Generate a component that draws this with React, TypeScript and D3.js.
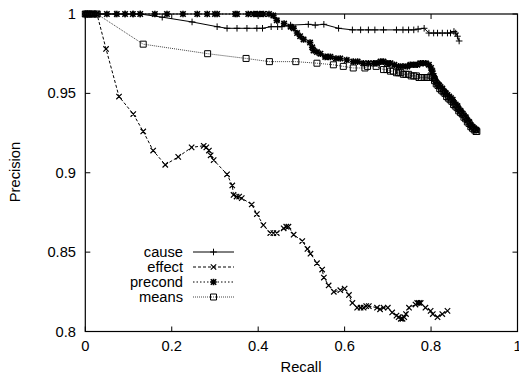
import React from "react";
import * as d3 from "d3";

// recall / precision pairs
const causePts: [number, number][] = [
  [0, 1], [0.01, 1], [0.02, 1], [0.034, 1], [0.069, 1], [0.092, 1], [0.111, 1], [0.127, 1],
  [0.178, 0.998], [0.247, 0.995], [0.305, 0.992], [0.328, 0.991], [0.351, 0.991], [0.374, 0.991],
  [0.397, 0.991], [0.41, 0.991], [0.43, 0.992], [0.445, 0.992], [0.455, 0.992], [0.475, 0.993],
  [0.516, 0.9935], [0.532, 0.993], [0.552, 0.9935], [0.586, 0.991], [0.618, 0.99], [0.637, 0.99],
  [0.655, 0.99], [0.67, 0.99], [0.69, 0.99], [0.72, 0.99], [0.735, 0.99], [0.748, 0.99],
  [0.76, 0.99], [0.77, 0.9905], [0.784, 0.991], [0.795, 0.988], [0.806, 0.988], [0.815, 0.988],
  [0.826, 0.988], [0.838, 0.988], [0.845, 0.988], [0.853, 0.989], [0.857, 0.988], [0.861, 0.986],
  [0.865, 0.983],
];

const effectPts: [number, number][] = [
  [0, 1], [0.01, 1], [0.02, 1], [0.027, 1], [0.048, 0.978], [0.078, 0.948], [0.111, 0.937],
  [0.134, 0.926], [0.157, 0.914], [0.185, 0.905], [0.215, 0.91], [0.246, 0.916], [0.274, 0.917],
  [0.28, 0.916], [0.286, 0.914], [0.29, 0.911], [0.297, 0.908], [0.328, 0.899], [0.34, 0.892],
  [0.343, 0.886], [0.35, 0.885], [0.356, 0.885], [0.362, 0.884], [0.385, 0.88], [0.397, 0.874],
  [0.412, 0.867], [0.428, 0.862], [0.435, 0.862], [0.443, 0.862], [0.459, 0.865], [0.465, 0.866],
  [0.47, 0.866], [0.482, 0.861], [0.502, 0.857], [0.514, 0.852], [0.521, 0.849], [0.536, 0.843],
  [0.548, 0.839], [0.552, 0.834], [0.563, 0.829], [0.575, 0.825], [0.59, 0.826], [0.6, 0.827],
  [0.61, 0.823], [0.618, 0.818], [0.629, 0.815], [0.637, 0.815], [0.644, 0.815], [0.65, 0.816],
  [0.656, 0.816], [0.675, 0.815], [0.682, 0.814], [0.69, 0.815], [0.7, 0.815], [0.71, 0.812],
  [0.72, 0.81], [0.725, 0.809], [0.73, 0.808], [0.734, 0.808], [0.738, 0.809], [0.742, 0.811],
  [0.749, 0.815], [0.764, 0.817], [0.768, 0.818], [0.772, 0.818], [0.776, 0.818], [0.787, 0.815],
  [0.799, 0.813], [0.804, 0.811], [0.815, 0.809], [0.826, 0.811], [0.838, 0.813],
];

const precondPts: [number, number][] = [
  [0, 1], [0.005, 1], [0.01, 1], [0.015, 1], [0.02, 1], [0.025, 1], [0.05, 1], [0.073, 1],
  [0.092, 1], [0.11, 1], [0.127, 1], [0.161, 1], [0.189, 1], [0.226, 1], [0.259, 1], [0.282, 1],
  [0.3, 1], [0.305, 1], [0.347, 1], [0.351, 1], [0.377, 1], [0.39, 1], [0.398, 1], [0.404, 1],
  [0.412, 1], [0.425, 1], [0.435, 0.999], [0.443, 0.996], [0.46, 0.994], [0.475, 0.992],
  [0.482, 0.991], [0.49, 0.988], [0.497, 0.986], [0.505, 0.984], [0.52, 0.982], [0.525, 0.979],
  [0.528, 0.977], [0.536, 0.976], [0.544, 0.975], [0.555, 0.973], [0.562, 0.973], [0.567, 0.973],
  [0.58, 0.972], [0.59, 0.972], [0.605, 0.971], [0.62, 0.97], [0.63, 0.97], [0.643, 0.969],
  [0.655, 0.969], [0.667, 0.969], [0.675, 0.969], [0.683, 0.97], [0.69, 0.97], [0.698, 0.969],
  [0.706, 0.969], [0.715, 0.968], [0.725, 0.967], [0.735, 0.967], [0.745, 0.967], [0.752, 0.968],
  [0.76, 0.968], [0.768, 0.968], [0.775, 0.969], [0.782, 0.969], [0.788, 0.969], [0.795, 0.968],
  [0.8, 0.966], [0.803, 0.964], [0.806, 0.961], [0.809, 0.959], [0.812, 0.957], [0.815, 0.956],
  [0.819, 0.955], [0.822, 0.954], [0.826, 0.953], [0.83, 0.951], [0.834, 0.95], [0.838, 0.949],
  [0.842, 0.948], [0.846, 0.947], [0.85, 0.946], [0.853, 0.944], [0.857, 0.943], [0.861, 0.942],
  [0.864, 0.94], [0.868, 0.939], [0.872, 0.937], [0.876, 0.936], [0.88, 0.935], [0.884, 0.933],
  [0.888, 0.932], [0.892, 0.93], [0.896, 0.929], [0.9, 0.928], [0.903, 0.927], [0.905, 0.927],
];

const meansPts: [number, number][] = [
  [0, 1], [0.005, 1], [0.01, 1], [0.018, 1], [0.027, 1], [0.134, 0.981], [0.283, 0.975],
  [0.372, 0.972], [0.426, 0.97], [0.487, 0.97], [0.536, 0.969], [0.574, 0.968], [0.597, 0.967],
  [0.62, 0.966], [0.647, 0.966], [0.653, 0.967], [0.673, 0.967], [0.69, 0.965], [0.698, 0.965],
  [0.706, 0.964], [0.713, 0.964], [0.72, 0.963], [0.725, 0.963], [0.73, 0.963], [0.736, 0.962],
  [0.742, 0.962], [0.748, 0.962], [0.754, 0.961], [0.76, 0.961], [0.766, 0.961], [0.772, 0.96],
  [0.778, 0.96], [0.784, 0.96], [0.79, 0.96], [0.795, 0.96], [0.8, 0.961], [0.804, 0.96],
  [0.808, 0.958], [0.812, 0.956], [0.816, 0.955], [0.82, 0.953], [0.824, 0.952], [0.828, 0.951],
  [0.832, 0.95], [0.836, 0.948], [0.84, 0.947], [0.844, 0.946], [0.848, 0.945], [0.852, 0.943],
  [0.856, 0.942], [0.86, 0.941], [0.864, 0.939], [0.868, 0.938], [0.872, 0.937], [0.876, 0.935],
  [0.88, 0.934], [0.884, 0.932], [0.888, 0.931], [0.892, 0.929], [0.896, 0.928], [0.9, 0.927],
  [0.904, 0.926], [0.906, 0.926],
];

const xTicks = [0, 0.2, 0.4, 0.6, 0.8, 1];
const xTickLabels = ["0", "0.2", "0.4", "0.6", "0.8", "1"];
const yTicks = [0.8, 0.85, 0.9, 0.95, 1];
const yTickLabels = ["0.8", "0.85", "0.9", "0.95", "1"];

const W = 519;
const H = 374;
const left = 85.3;
const right = 517.5;
const top = 14;
const bottom = 331.5;
const font = "'Liberation Sans', Arial, sans-serif";
const fs = 14.7;

type Marker = "plus" | "cross" | "star" | "square";

const series: { name: string; pts: [number, number][]; dash: string; stroke: string; marker: Marker }[] = [
  { name: "cause", pts: causePts, dash: "none", stroke: "#000", marker: "plus" },
  { name: "effect", pts: effectPts, dash: "3,2", stroke: "#000", marker: "cross" },
  { name: "precond", pts: precondPts, dash: "1.5,2", stroke: "#000", marker: "star" },
  { name: "means", pts: meansPts, dash: "1,1", stroke: "#444", marker: "square" },
];

function markerPath(m: Marker, x: number, y: number): string {
  const s = 3.3;
  if (m === "plus") return `M${x - s},${y}H${x + s}M${x},${y - s}V${y + s}`;
  if (m === "cross") {
    const c = 2.7;
    return `M${x - c},${y - c}L${x + c},${y + c}M${x - c},${y + c}L${x + c},${y - c}`;
  }
  if (m === "star") {
    const c = 2.7;
    return `M${x - s},${y}H${x + s}M${x},${y - s}V${y + s}M${x - c},${y - c}L${x + c},${y + c}M${x - c},${y + c}L${x + c},${y - c}`;
  }
  const q = 3;
  return `M${x - q},${y - q}H${x + q}V${y + q}H${x - q}Z`;
}

const markerWidth = (m: Marker) => (m === "star" ? 1.6 : m === "cross" ? 1.2 : 1);

export default function App() {
  const x = d3.scaleLinear().domain([0, 1]).range([left, right]);
  const y = d3.scaleLinear().domain([0.8, 1]).range([bottom, top]);
  const line = d3
    .line<[number, number]>()
    .x((d) => x(d[0]))
    .y((d) => y(d[1]));

  const legendRows = [252, 267, 282, 297];

  return (
    <svg
      width={W}
      height={H}
      style={{ position: "absolute", left: 0, top: 0, background: "#fff" }}
      fontFamily={font}
      fontSize={fs}
    >
      <rect x={0} y={0} width={W} height={H} fill="#fff" />

      {/* ticks, mirrored on all four sides */}
      {xTicks.map((t, i) => (
        <g key={"x" + i}>
          <line x1={x(t)} x2={x(t)} y1={bottom} y2={bottom - 5} stroke="#000" />
          <line x1={x(t)} x2={x(t)} y1={top} y2={top + 5} stroke="#000" />
          <text x={x(t)} y={351} textAnchor="middle">
            {xTickLabels[i]}
          </text>
        </g>
      ))}
      {yTicks.map((t, i) => (
        <g key={"y" + i}>
          <line x1={left} x2={left + 5} y1={y(t)} y2={y(t)} stroke="#000" />
          <line x1={right} x2={right - 5} y1={y(t)} y2={y(t)} stroke="#000" />
          <text x={76} y={y(t) + 5} textAnchor="end">
            {yTickLabels[i]}
          </text>
        </g>
      ))}

      <text x={301} y={372} textAnchor="middle">
        Recall
      </text>
      <text transform="translate(20,172) rotate(-90)" textAnchor="middle">
        Precision
      </text>

      {series.map((s) => (
        <g key={s.name}>
          <path d={line(s.pts) || ""} fill="none" stroke={s.stroke} strokeWidth={1} strokeDasharray={s.dash} />
          <path
            d={s.pts.map((p) => markerPath(s.marker, x(p[0]), y(p[1]))).join("")}
            fill="none"
            stroke="#000"
            strokeWidth={markerWidth(s.marker)}
          />
        </g>
      ))}

      {/* legend */}
      {series.map((s, i) => (
        <g key={"l" + s.name}>
          <text x={183} y={legendRows[i] + 5} textAnchor="end">
            {s.name}
          </text>
          <line x1={193} x2={234} y1={legendRows[i]} y2={legendRows[i]} stroke={s.stroke} strokeDasharray={s.dash} />
          <path d={markerPath(s.marker, 213.5, legendRows[i])} fill="none" stroke="#000" strokeWidth={markerWidth(s.marker)} />
        </g>
      ))}

      <rect x={left} y={top} width={right - left} height={bottom - top} fill="none" stroke="#000" strokeWidth={1.2} />
    </svg>
  );
}
